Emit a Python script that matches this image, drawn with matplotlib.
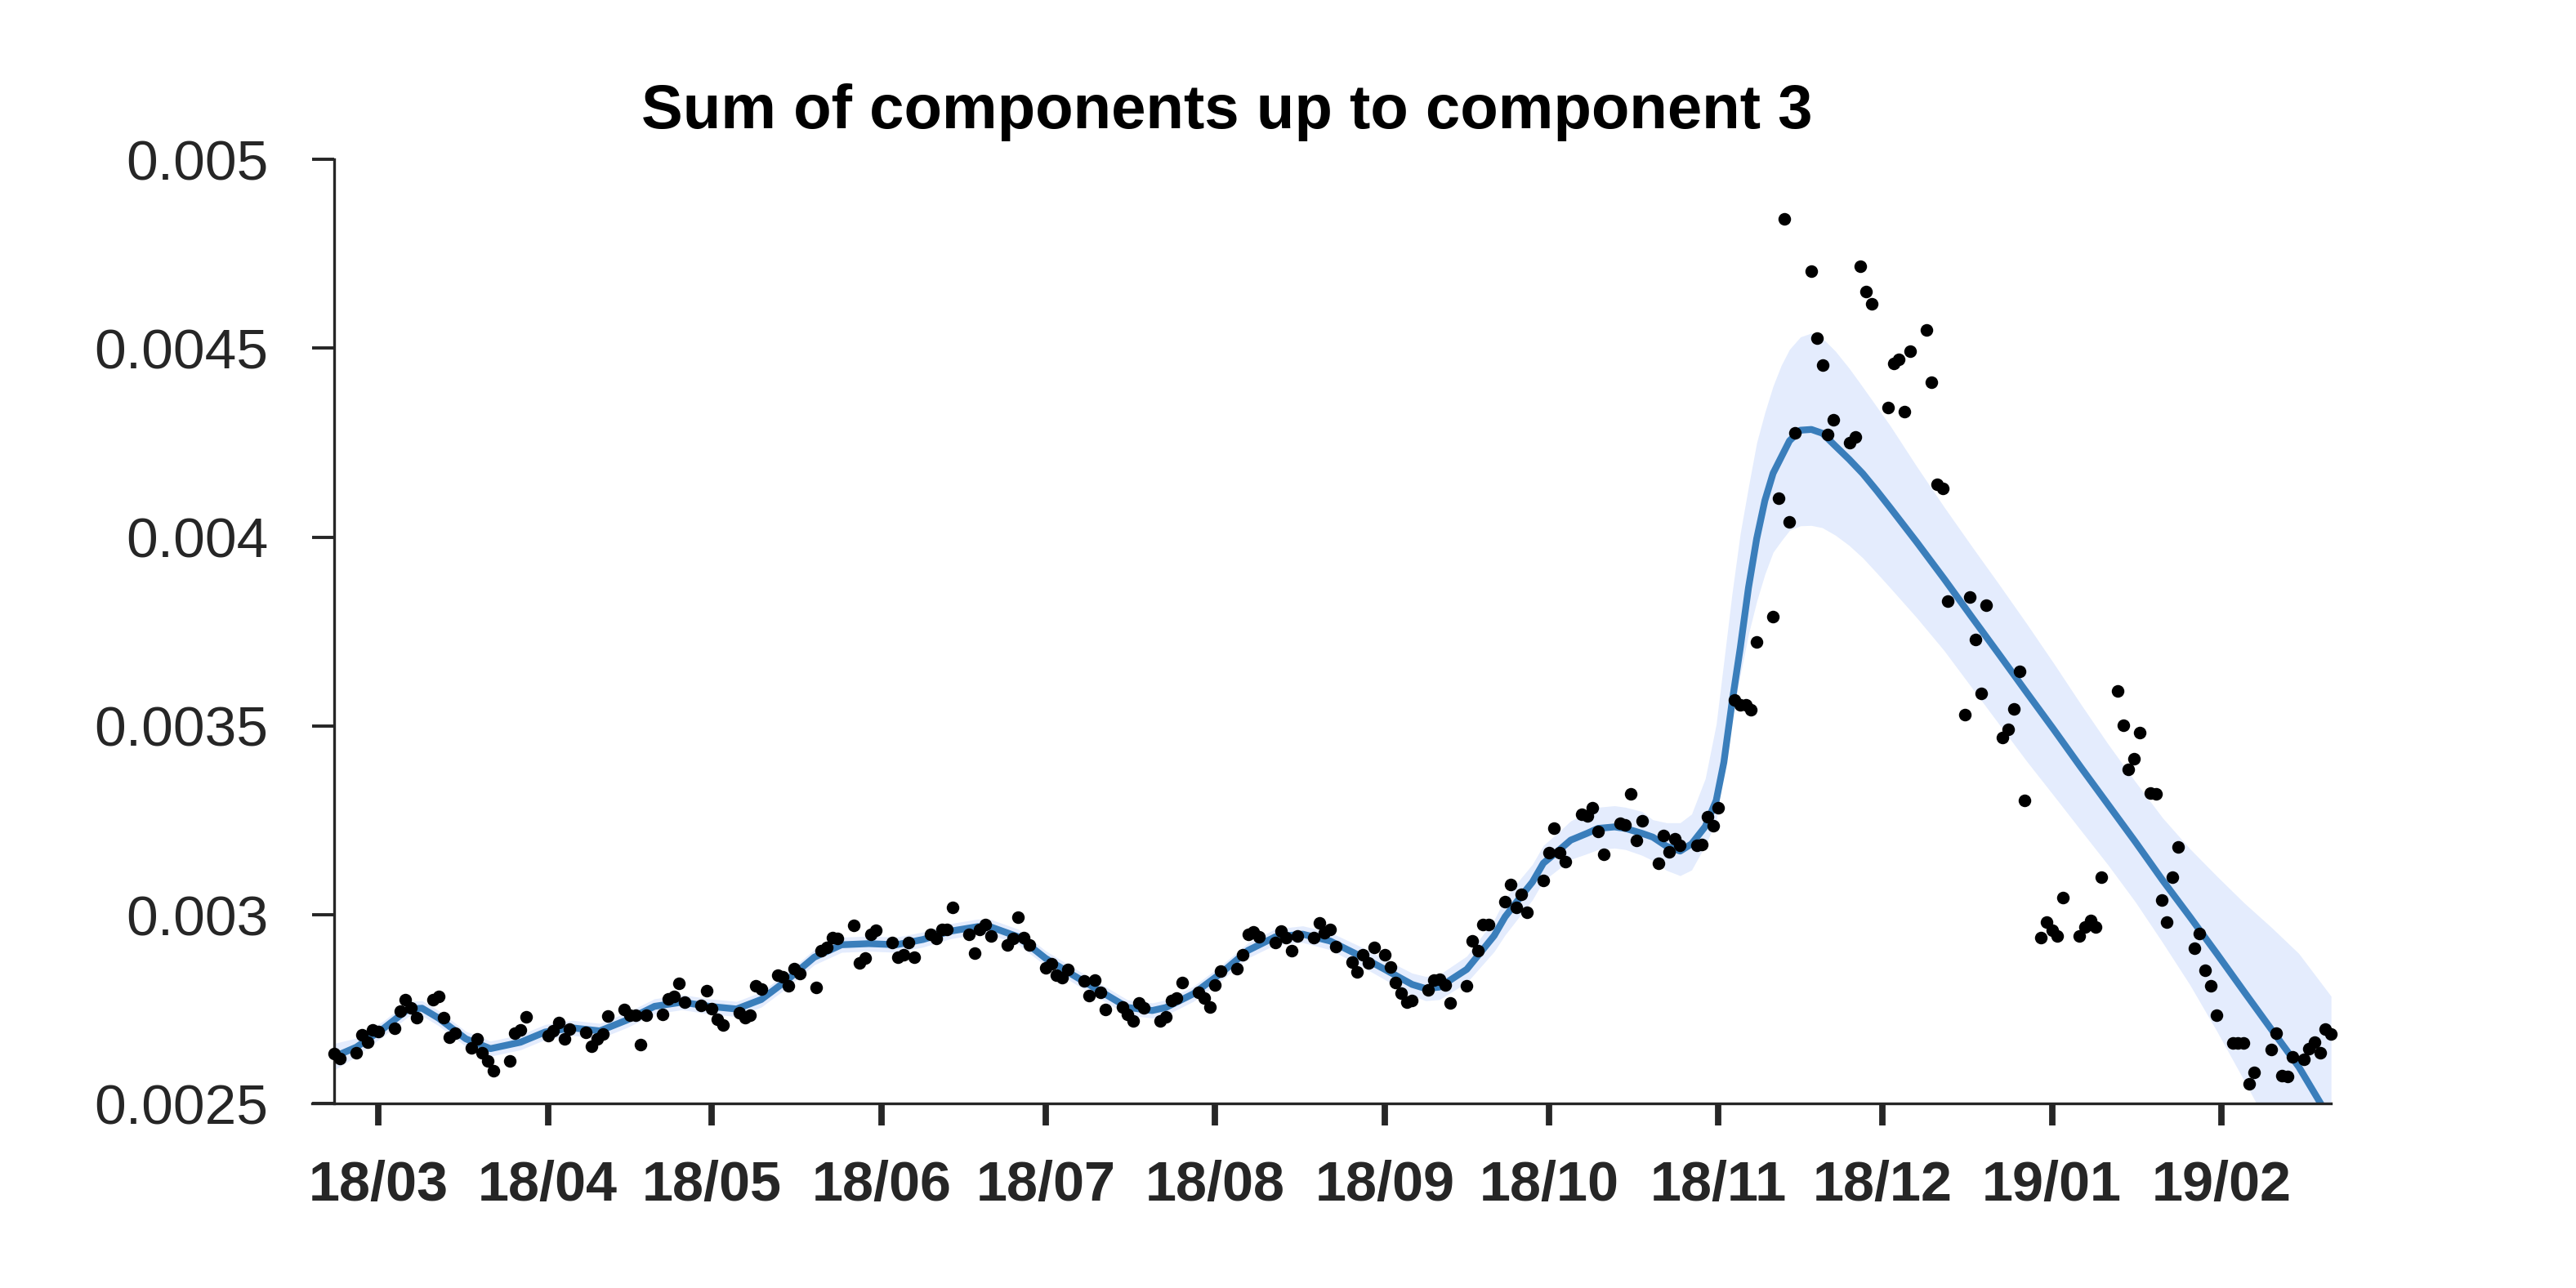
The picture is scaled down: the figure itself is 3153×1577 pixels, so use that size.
import numpy as np
import matplotlib
matplotlib.use('Agg')
import matplotlib.pyplot as plt
import matplotlib.dates as mdates

plt.rcParams['font.family'] = ['Liberation Sans', 'DejaVu Sans']

title = 'Sum of components up to component 3'
start_date = '2018-02-21'

# observed points: day offset from start_date, value in units of 1e-3
obs_day = [0, 1, 4, 5, 6, 7, 8, 11, 12, 13, 14, 15, 18, 19, 20, 21, 22, 25, 26, 27, 28, 29,
           32, 33, 34, 35, 39, 40, 41, 42, 43, 46, 47, 48, 49, 50, 53, 54, 55, 56, 57,
           60, 61, 62, 63, 64, 67, 68, 69, 70, 71,
           74, 75, 76, 77, 78, 81, 82, 83, 84, 85, 88, 89, 90, 91, 92, 95, 96, 97, 98, 99,
           102, 103, 104, 105, 106, 109, 110, 111, 112, 113, 116, 117, 118, 119, 120,
           123, 124, 125, 126, 127, 130, 131, 132, 133, 134, 137, 138, 139, 140, 141,
           144, 145, 146, 147, 148, 151, 152, 153, 154, 155, 158, 159, 160, 161, 162,
           165, 166, 167, 168, 169, 172, 173, 174, 175, 176, 179, 180, 181, 182, 183,
           186, 187, 188, 189, 190, 192, 193, 194, 195, 196, 197, 200, 201, 202, 203, 204,
           207, 208, 209, 210, 211, 214, 215, 216, 217, 218,
           221, 222, 223, 224, 225, 228, 229, 230, 231, 232, 235, 236, 237, 238, 239,
           242, 243, 244, 245, 246, 249, 250, 251, 252, 253, 256, 257, 258, 259, 260,
           263, 264, 265, 266, 267, 270, 271, 272, 273, 274, 277, 278, 279, 280, 281,
           284, 285, 286, 287, 288, 291, 292, 293, 294, 295, 298, 299, 300, 301, 302,
           305, 306, 307, 308, 309,
           312, 313, 314, 315, 316, 319, 320, 321, 322, 323, 326, 327, 328, 329, 330,
           332, 333, 334, 335, 336, 337, 340, 341, 342, 343, 344, 347, 348, 349, 350, 351,
           354, 355, 356, 357, 358, 360, 361, 362, 363, 364, 365]
obs_val = [2.632, 2.621, 2.636, 2.683, 2.663, 2.695, 2.691, 2.701, 2.746, 2.775, 2.753, 2.729,
           2.775, 2.784, 2.729, 2.677, 2.686, 2.648, 2.672, 2.636, 2.614, 2.587,
           2.614, 2.688, 2.695, 2.731, 2.680, 2.693, 2.715, 2.672, 2.698, 2.690, 2.652, 2.672, 2.684, 2.733,
           2.750, 2.735, 2.735, 2.657, 2.735, 2.737, 2.778, 2.785, 2.818, 2.769, 2.760, 2.799, 2.751, 2.724, 2.708,
           2.740, 2.729, 2.735, 2.812, 2.803, 2.841, 2.836, 2.812, 2.858, 2.845,
           2.807, 2.906, 2.913, 2.939, 2.937, 2.973, 2.872, 2.885, 2.949, 2.960,
           2.928, 2.888, 2.895, 2.928, 2.888, 2.948, 2.937, 2.962, 2.962, 3.020,
           2.949, 2.899, 2.962, 2.975, 2.944, 2.921, 2.937, 2.994, 2.939, 2.921,
           2.859, 2.870, 2.840, 2.834, 2.856, 2.825, 2.786, 2.827, 2.796, 2.750,
           2.757, 2.737, 2.719, 2.768, 2.755, 2.719, 2.731, 2.774, 2.780, 2.820,
           2.796, 2.780, 2.756, 2.815, 2.851, 2.858, 2.895, 2.948, 2.955, 2.941,
           2.928, 2.958, 2.939, 2.906, 2.944, 2.940, 2.978, 2.953, 2.962, 2.916,
           2.875, 2.850, 2.895, 2.872, 2.915, 2.895, 2.863, 2.821, 2.793, 2.769, 2.774,
           2.802, 2.828, 2.829, 2.815, 2.766, 2.812, 2.931, 2.906, 2.975, 2.975,
           3.036, 3.081, 3.019, 3.054, 3.007,
           3.092, 3.165, 3.229, 3.165, 3.142, 3.267, 3.263, 3.284, 3.220, 3.160,
           3.242, 3.238, 3.320, 3.197, 3.250, 3.137, 3.211, 3.166, 3.202, 3.184,
           3.184, 3.186, 3.260, 3.236, 3.284, 3.569, 3.557, 3.556, 3.543, 3.722,
           3.790, 4.104, 4.842, 4.041, 4.275, 4.704, 4.526, 4.456, 4.271, 4.311,
           4.251, 4.265, 4.718, 4.650, 4.617, 4.342, 4.459, 4.471, 4.332, 4.492,
           4.548, 4.411, 4.140, 4.128, 3.831, 3.531, 3.841, 3.729, 3.586, 3.820,
           3.470, 3.492, 3.545, 3.644, 3.304,
           2.940, 2.982, 2.960, 2.945, 3.045, 2.945, 2.967, 2.985, 2.968, 3.099,
           3.593, 3.501, 3.385, 3.414, 3.483, 3.323, 3.321, 3.040, 2.980, 3.099, 3.179,
           2.911, 2.950, 2.854, 2.813, 2.734, 2.661, 2.661, 2.661, 2.552, 2.583,
           2.643, 2.687, 2.575, 2.573, 2.625, 2.618, 2.646, 2.663, 2.636, 2.698, 2.685]

# fitted curve with its band (units of 1e-3)
fit_day = [0, 4, 9, 13.5, 16, 19, 24, 28.5, 34, 38.5, 43.5, 48.5, 53.5, 58.5, 63.5, 68.5, 73.5,
           78, 82.7, 87.7, 92.7, 97.7, 102.7, 107.6, 112.6, 117.6, 120, 125, 130, 135, 140, 145,
           149.5, 152, 157, 162, 167, 172, 177, 182, 187, 192, 197, 199.5, 202, 207, 212, 214,
           217, 219, 221, 224, 226, 229, 231, 234, 236, 239, 241, 243.5, 246, 248.1, 250.6,
           252.6, 254, 255.5, 257, 258.5, 260, 261.5, 263, 264.5, 266, 268, 270, 272, 274.4,
           276.9, 279.4, 281.9, 284.4, 289.3, 294.3, 299.3, 304.3, 309.3, 314.3, 319.2, 324.2,
           329.2, 334.2, 339.2, 344.1, 349.1, 354.1, 359.1, 365]
fit_mid = [2.625, 2.650, 2.700, 2.751, 2.753, 2.727, 2.672, 2.646, 2.663, 2.690, 2.701, 2.693,
           2.722, 2.758, 2.769, 2.758, 2.751,
           2.776, 2.827, 2.888, 2.921, 2.924, 2.921, 2.935, 2.957, 2.969, 2.968, 2.942, 2.885,
           2.841, 2.798, 2.755,
           2.747, 2.755, 2.791, 2.845, 2.906, 2.942, 2.949, 2.931, 2.895, 2.856, 2.816, 2.805,
           2.809, 2.856, 2.945, 2.995,
           3.051, 3.087, 3.137, 3.173, 3.198, 3.216, 3.229, 3.233, 3.229, 3.216, 3.206, 3.182,
           3.169, 3.188, 3.234,
           3.303, 3.404, 3.563, 3.707, 3.866, 3.996, 4.097, 4.169, 4.212, 4.255, 4.283, 4.285,
           4.275, 4.241,
           4.206, 4.168, 4.124, 4.078, 3.986, 3.889, 3.789, 3.690, 3.590, 3.491, 3.392, 3.293,
           3.194, 3.092, 2.995, 2.898, 2.797, 2.697, 2.598, 2.455]
fit_lo = [2.590, 2.626, 2.680, 2.731, 2.733, 2.707, 2.652, 2.626, 2.643, 2.670, 2.681, 2.673,
          2.702, 2.738, 2.749, 2.738, 2.731,
          2.756, 2.807, 2.868, 2.901, 2.904, 2.901, 2.915, 2.937, 2.949, 2.948, 2.922, 2.865,
          2.821, 2.778, 2.735,
          2.727, 2.735, 2.771, 2.825, 2.886, 2.921, 2.927, 2.908, 2.870, 2.829, 2.786, 2.773,
          2.776, 2.821, 2.903, 2.947,
          3.003, 3.040, 3.090, 3.124, 3.147, 3.162, 3.173, 3.177, 3.173, 3.158, 3.144, 3.118,
          3.104, 3.119, 3.184,
          3.248, 3.383, 3.519, 3.635, 3.743, 3.830, 3.902, 3.960, 3.990, 4.018, 4.030, 4.031,
          4.025, 4.005,
          3.978, 3.945, 3.906, 3.866, 3.786, 3.699, 3.602, 3.505, 3.408, 3.316, 3.225, 3.133,
          3.035, 2.927, 2.815, 2.693, 2.562, 2.427, 2.298, 2.125]
fit_hi = [2.660, 2.674, 2.720, 2.771, 2.773, 2.747, 2.692, 2.666, 2.683, 2.710, 2.721, 2.713,
          2.742, 2.778, 2.789, 2.778, 2.771,
          2.796, 2.847, 2.908, 2.941, 2.944, 2.941, 2.955, 2.977, 2.989, 2.988, 2.962, 2.905,
          2.861, 2.818, 2.775,
          2.767, 2.775, 2.811, 2.865, 2.926, 2.963, 2.971, 2.954, 2.920, 2.883, 2.846, 2.837,
          2.842, 2.891, 2.987, 3.043,
          3.099, 3.134, 3.184, 3.222, 3.249, 3.270, 3.285, 3.289, 3.285, 3.274, 3.252, 3.244,
          3.244, 3.267, 3.361,
          3.505, 3.671, 3.851, 4.010, 4.133, 4.250, 4.330, 4.400, 4.455, 4.497, 4.530, 4.540,
          4.527, 4.492,
          4.447, 4.397, 4.346, 4.295, 4.186, 4.079, 3.976, 3.875, 3.772, 3.666, 3.559, 3.453,
          3.353, 3.257, 3.175, 3.103, 3.032, 2.967, 2.898, 2.785]

month_ticks = ['2018-03-01', '2018-04-01', '2018-05-01', '2018-06-01', '2018-07-01', '2018-08-01',
               '2018-09-01', '2018-10-01', '2018-11-01', '2018-12-01', '2019-01-01', '2019-02-01']
month_labels = ['18/03', '18/04', '18/05', '18/06', '18/07', '18/08',
                '18/09', '18/10', '18/11', '18/12', '19/01', '19/02']
y_ticks = [0.0025, 0.003, 0.0035, 0.004, 0.0045, 0.005]

assert len(obs_day) == len(obs_val)
assert len(fit_day) == len(fit_mid) == len(fit_lo) == len(fit_hi)

base = mdates.date2num(np.datetime64(start_date))
ox = base + np.array(obs_day, dtype=float)
oy = np.array(obs_val) * 1e-3
fx = base + np.array(fit_day, dtype=float)
fm = np.array(fit_mid) * 1e-3
flo = np.array(fit_lo) * 1e-3
fhi = np.array(fit_hi) * 1e-3

ink = '#262626'
fig = plt.figure(figsize=(15.765, 7.885), dpi=200)
ax = fig.add_axes([0.1212, 0.1430, 0.7837, 0.7333])

ax.fill_between(fx, flo, fhi, color='#e4ecfd', linewidth=0, zorder=1)
ax.plot(fx, fm, color='#3a7ebb', lw=3.0, zorder=2, solid_capstyle='butt', solid_joinstyle='round')
ax.scatter(ox, oy, s=31, c='black', linewidths=0, zorder=3, clip_on=False)

ax.set_xlim(base - 4.08, base + 365)
ax.set_ylim(0.0025, 0.005)

for s in ['top', 'right']:
    ax.spines[s].set_visible(False)
ax.spines['left'].set_position(('data', base))
for s in ['left', 'bottom']:
    ax.spines[s].set_linewidth(1.2)
    ax.spines[s].set_color(ink)

ax.set_yticks(y_ticks)
ax.set_yticklabels([f'{v:g}' for v in y_ticks], fontsize=25, color=ink)
tick_pos = mdates.date2num(np.array(month_ticks, dtype='datetime64[D]'))
ax.set_xticks(tick_pos)
ax.set_xticklabels(month_labels, fontsize=24.6, fontweight='bold', color=ink)

ax.tick_params(axis='y', direction='out', length=9.7, width=1.4, pad=19.5, color=ink)
ax.tick_params(axis='x', direction='out', length=9.7, width=2.8, pad=15, color=ink)

fig.text(0.4764, 0.9004, title, ha='center', va='baseline', fontsize=27.4, fontweight='bold')

fig.savefig('out.png', dpi=200)
